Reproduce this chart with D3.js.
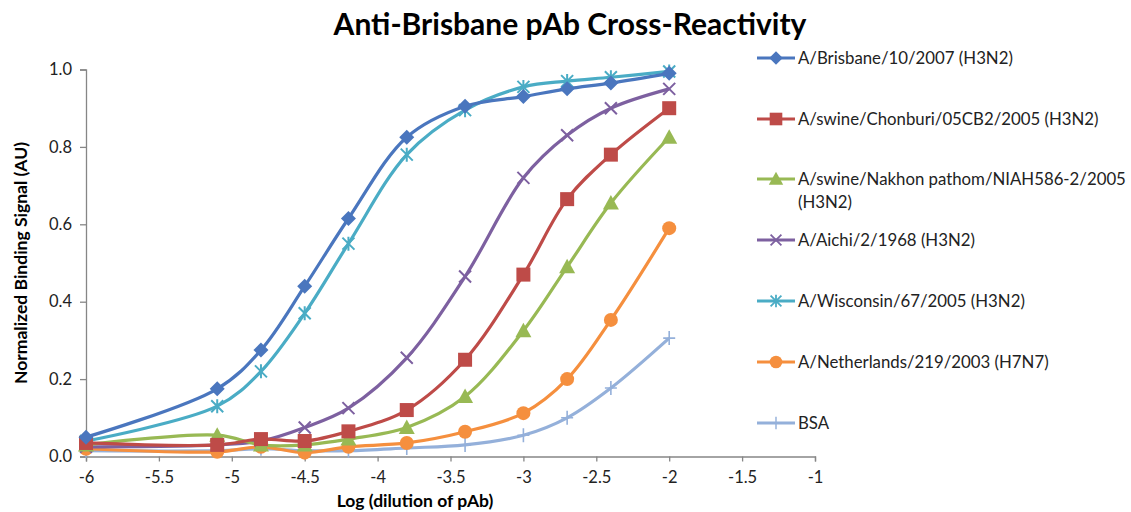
<!DOCTYPE html>
<html>
<head>
<meta charset="utf-8">
<script src="https://cdn.jsdelivr.net/npm/d3@7"></script>
<style>
  body { margin: 0; background: #fff; }
  text { font-family: Lato, "Open Sans", sans-serif; }
</style>
</head>
<body>
<div id="chart"></div>
<script>
// dilution steps (log10)
var logDilution = [-6, -5.1, -4.8, -4.5, -4.2, -3.8, -3.4, -3.0, -2.7, -2.4, -2.0]

var brisbane    = [0.05, 0.175, 0.275, 0.44, 0.615, 0.825, 0.905, 0.93, 0.95, 0.965, 0.99]
var chonburi    = [0.035, 0.03, 0.045, 0.04, 0.065, 0.12, 0.25, 0.47, 0.665, 0.78, 0.90]
var nakhon      = [0.03, 0.055, 0.03, 0.03, 0.045, 0.075, 0.155, 0.325, 0.49, 0.655, 0.825]
var aichi       = [0.025, 0.03, 0.04, 0.075, 0.125, 0.255, 0.465, 0.72, 0.83, 0.90, 0.95]
var wisconsin   = [0.04, 0.13, 0.22, 0.37, 0.55, 0.78, 0.895, 0.955, 0.97, 0.98, 0.995]
var netherlands = [0.02, 0.012, 0.025, 0.01, 0.025, 0.035, 0.064, 0.112, 0.2, 0.353, 0.59]
var bsa         = [0.015, 0.015, 0.02, 0.015, 0.015, 0.022, 0.03, 0.055, 0.1, 0.177, 0.306]

var seriesNames = ["A/Brisbane/10/2007 (H3N2)", "A/swine/Chonburi/05CB2/2005 (H3N2)",
  "A/swine/Nakhon pathom/NIAH586-2/2005 (H3N2)", "A/Aichi/2/1968 (H3N2)",
  "A/Wisconsin/67/2005 (H3N2)", "A/Netherlands/219/2003 (H7N7)", "BSA"]
var seriesValues = [brisbane, chonburi, nakhon, aichi, wisconsin, netherlands, bsa]
var colors = ["#4a76be", "#be4b48", "#98b954", "#7d60a0", "#4aacc5", "#f58f3e", "#94b0da"]
var markers = ["diamond", "square", "triangle", "x", "asterisk", "circle", "plus"]

var xTicks = [-6, -5.5, -5, -4.5, -4, -3.5, -3, -2.5, -2, -1.5, -1]
var yTicks = [0, 0.2, 0.4, 0.6, 0.8, 1.0]

var w = 1131, h = 512
var pLeft = 86, pRight = 815, pTop = 69.5, pBottom = 456.5

var svg = d3.select("#chart").append("svg")
  .attr("width", w).attr("height", h)

var x = d3.scaleLinear().domain([-6, -1]).range([pLeft, pRight])
var y = d3.scaleLinear().domain([0, 1]).range([pBottom, pTop])

// axes
svg.append("g")
  .attr("transform", "translate(0," + pBottom + ")")
  .call(d3.axisBottom(x).tickValues(xTicks).tickSize(5).tickPadding(10)
    .tickFormat(function (d) { return String(d) }))
svg.append("g")
  .attr("transform", "translate(" + pLeft + ",0)")
  .call(d3.axisLeft(y).tickValues(yTicks).tickSize(6).tickPadding(8)
    .tickFormat(d3.format(".1f")))

svg.selectAll(".domain").attr("stroke", "#868686").attr("stroke-width", 1.3)
svg.selectAll(".tick line").attr("stroke", "#868686").attr("stroke-width", 1.3)
svg.selectAll(".tick text").attr("font-size", 16.5).attr("fill", "#222")
  .style("font-family", "Lato, sans-serif")

// titles
svg.append("text")
  .attr("x", 570).attr("y", 35)
  .attr("text-anchor", "middle")
  .attr("font-size", 30).attr("font-weight", "bold")
  .text("Anti-Brisbane pAb Cross-Reactivity")

svg.append("text")
  .attr("x", 415).attr("y", 507)
  .attr("text-anchor", "middle")
  .attr("font-size", 17.5).attr("font-weight", "bold")
  .text("Log (dilution of pAb)")

svg.append("text")
  .attr("transform", "translate(27," + ((pTop + pBottom) / 2) + ") rotate(-90)")
  .attr("text-anchor", "middle")
  .attr("font-size", 17.5).attr("font-weight", "bold")
  .text("Normalized Binding Signal (AU)")

function drawMarker(g, type, color) {
  if (type == "diamond") {
    g.append("path").attr("d", "M0,-7.5 L7.5,0 L0,7.5 L-7.5,0 Z").attr("fill", color)
  } else if (type == "square") {
    g.append("rect").attr("x", -7).attr("y", -7).attr("width", 14).attr("height", 14).attr("fill", color)
  } else if (type == "triangle") {
    g.append("path").attr("d", "M0,-8 L8,6.5 L-8,6.5 Z").attr("fill", color)
  } else if (type == "circle") {
    g.append("circle").attr("r", 7).attr("fill", color)
  } else if (type == "x") {
    g.append("path").attr("d", "M-6,-6 L6,6 M-6,6 L6,-6").attr("stroke", color).attr("stroke-width", 2)
  } else if (type == "asterisk") {
    g.append("path").attr("d", "M-6,-6 L6,6 M-6,6 L6,-6 M0,-7 L0,7").attr("stroke", color).attr("stroke-width", 2)
  } else if (type == "plus") {
    g.append("path").attr("d", "M-6,0 L6,0 M0,-7 L0,7").attr("stroke", color).attr("stroke-width", 1.6)
  }
}

var line = d3.line()
  .x(function (d) { return x(d.x) })
  .y(function (d) { return y(d.y) })
  .curve(d3.curveCatmullRom.alpha(0.5))

// draw series from last to first so Brisbane is on top
for (var i = seriesValues.length - 1; i >= 0; i--) {
  var pts = logDilution.map(function (lx, j) { return {x: lx, y: seriesValues[i][j]} })
  var g = svg.append("g")
  g.append("path")
    .datum(pts)
    .attr("d", line)
    .attr("fill", "none")
    .attr("stroke", colors[i])
    .attr("stroke-width", 3.2)
  g.selectAll("g.pt")
    .data(pts)
    .enter()
    .append("g")
    .attr("class", "pt")
    .attr("transform", function (d) { return "translate(" + x(d.x) + "," + y(d.y) + ")" })
    .each(function () { drawMarker(d3.select(this), markers[i], colors[i]) })
}

// legend
var legendY = [58, 119, 179, 240, 301, 362, 423]
var legend = svg.append("g")
seriesNames.forEach(function (name, i) {
  var lg = legend.append("g").attr("transform", "translate(757," + legendY[i] + ")")
  lg.append("line").attr("x1", 0).attr("x2", 38).attr("y1", 0).attr("y2", 0)
    .attr("stroke", colors[i]).attr("stroke-width", 3.2)
  var m = lg.append("g").attr("transform", "translate(19,0) scale(0.9)")
  drawMarker(m, markers[i], colors[i])
  var t = lg.append("text").attr("x", 41).attr("y", 6)
    .attr("font-size", 16.8).attr("fill", "#222")
  if (i == 2) {
    t.append("tspan").attr("x", 41).text("A/swine/Nakhon pathom/NIAH586-2/2005")
    t.append("tspan").attr("x", 41).attr("dy", 23).text("(H3N2)")
  } else {
    t.text(name)
  }
})
</script>
</body>
</html>
